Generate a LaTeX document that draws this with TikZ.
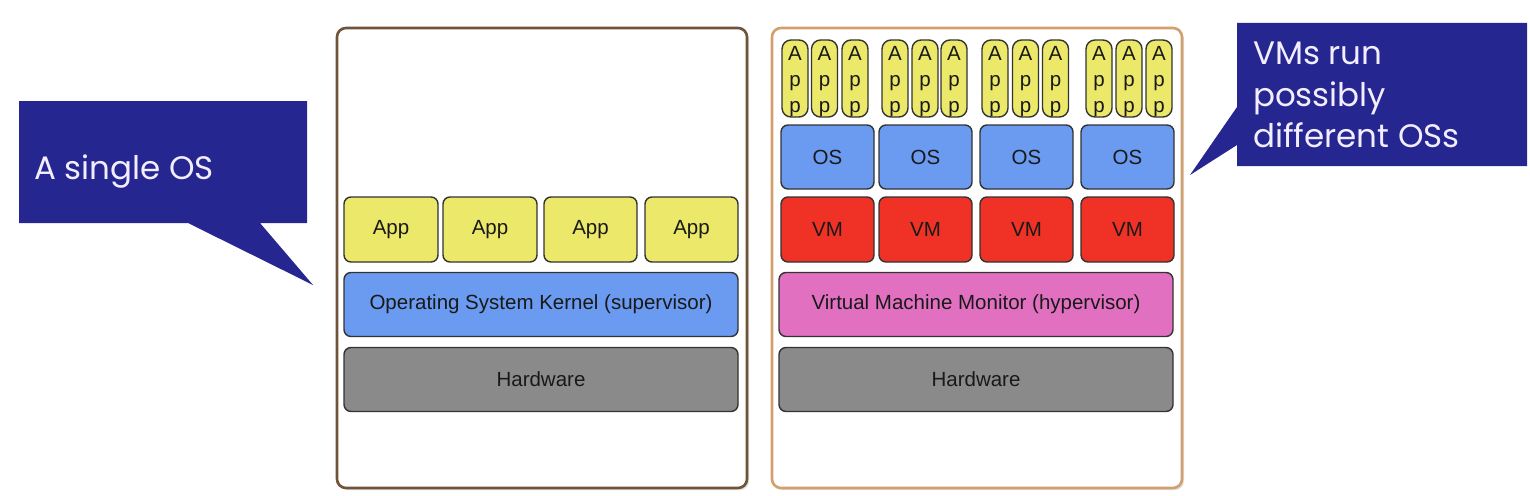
\documentclass[tikz,border=0pt]{standalone}
\usepackage{fontspec}
\setmainfont{Liberation Sans}
\newfontfamily\callfont{Poppins}
\usetikzlibrary{shadows}
\definecolor{callblue}{RGB}{38,38,145}
\definecolor{appyellow}{RGB}{236,232,106}
\definecolor{osblue}{RGB}{106,155,240}
\definecolor{vmred}{RGB}{240,50,38}
\definecolor{vmmpink}{RGB}{226,112,192}
\definecolor{hwgray}{RGB}{138,138,138}
\definecolor{leftframe}{RGB}{112,84,56}
\definecolor{rightframe}{RGB}{210,160,110}
\definecolor{calltext}{RGB}{242,238,255}
\tikzset{
  panel/.style={draw, line width=2.6pt, fill=white, rounded corners=9pt,
    drop shadow={opacity=0.25, shadow xshift=2pt, shadow yshift=-2pt}},
  box/.style={draw=black!80, line width=1.4pt, rounded corners=7pt, inner sep=0pt,
    font=\fontsize{20.5}{24}\selectfont, text=black!90},
  app/.style={box, fill=appyellow, minimum height=65pt},
  tinyapp/.style={box, fill=appyellow, rounded corners=9pt, minimum width=26pt,
    minimum height=77pt},
  stacktxt/.style={inner sep=0pt, align=center, text=black!90,
    font=\fontsize{20.5}{26}\selectfont, yshift=-3pt},
  osbox/.style={box, fill=osblue, minimum height=64pt, minimum width=93pt},
  vmbox/.style={box, fill=vmred, minimum height=65pt, minimum width=93pt},
  wide/.style={box, minimum width=394pt, minimum height=64pt},
  callout/.style={fill=callblue},
  calltxt/.style={inner sep=0pt, text=calltext, font=\callfont\fontsize{32.5}{41.5}\selectfont}
}
\begin{document}
\begin{tikzpicture}[x=1pt, y=-1pt]
\useasboundingbox[fill=white] (0,0) rectangle (1530,495);

% ---------- left panel ----------
\node[panel, draw=leftframe, minimum width=410pt, minimum height=460pt] (lpanel) at (542,258) {};
\node[app, minimum width=94pt] (la1) at (391,229.5) {App};
\node[app, minimum width=94pt] (la2) at (490,229.5) {App};
\node[app, minimum width=93pt] (la3) at (590.5,229.5) {App};
\node[app, minimum width=93pt] (la4) at (691.5,229.5) {App};
\node[wide, fill=osblue] (kernel) at (541,304.5) {Operating System Kernel (supervisor)};
\node[wide, fill=hwgray] (lhw) at (541,379.5) {Hardware};

% ---------- right panel ----------
\node[panel, draw=rightframe, minimum width=410pt, minimum height=460pt] (rpanel) at (977,258) {};
\foreach \x [count=\i] in {795,824.5,855,895,925,954,995,1025.5,1055.5,1099,1129,1159}
  \node[tinyapp, label={[stacktxt]center:A\\p\\p}] (ra\i) at (\x,78.5) {};
\foreach \x [count=\i] in {827.5,925.5,1026.5,1127.5}{
  \node[osbox] (os\i) at (\x,157) {OS};
  \node[vmbox] (vm\i) at (\x,229.5) {VM};
}
\node[wide, fill=vmmpink] (vmm) at (976,304.5) {Virtual Machine Monitor (hypervisor)};
\node[wide, fill=hwgray] (rhw) at (976,379.5) {Hardware};

% ---------- callouts ----------
\fill[callout] (19,101) -- (307,101) -- (307,223) -- (260,223) -- (313,285)
  -- (188,223) -- (19,223) -- cycle;
\node[calltxt, anchor=base west] (ltext) at (34,179) {A single OS};

\fill[callout] (1237,23) -- (1527,23) -- (1527,166) -- (1237,166) -- (1237,145)
  -- (1190,175) -- (1237,107) -- cycle;
\node[calltxt, anchor=north west, align=left] (rtext) at (1253,42)
  {VMs run\\possibly\\different OSs};
\end{tikzpicture}
\end{document}
